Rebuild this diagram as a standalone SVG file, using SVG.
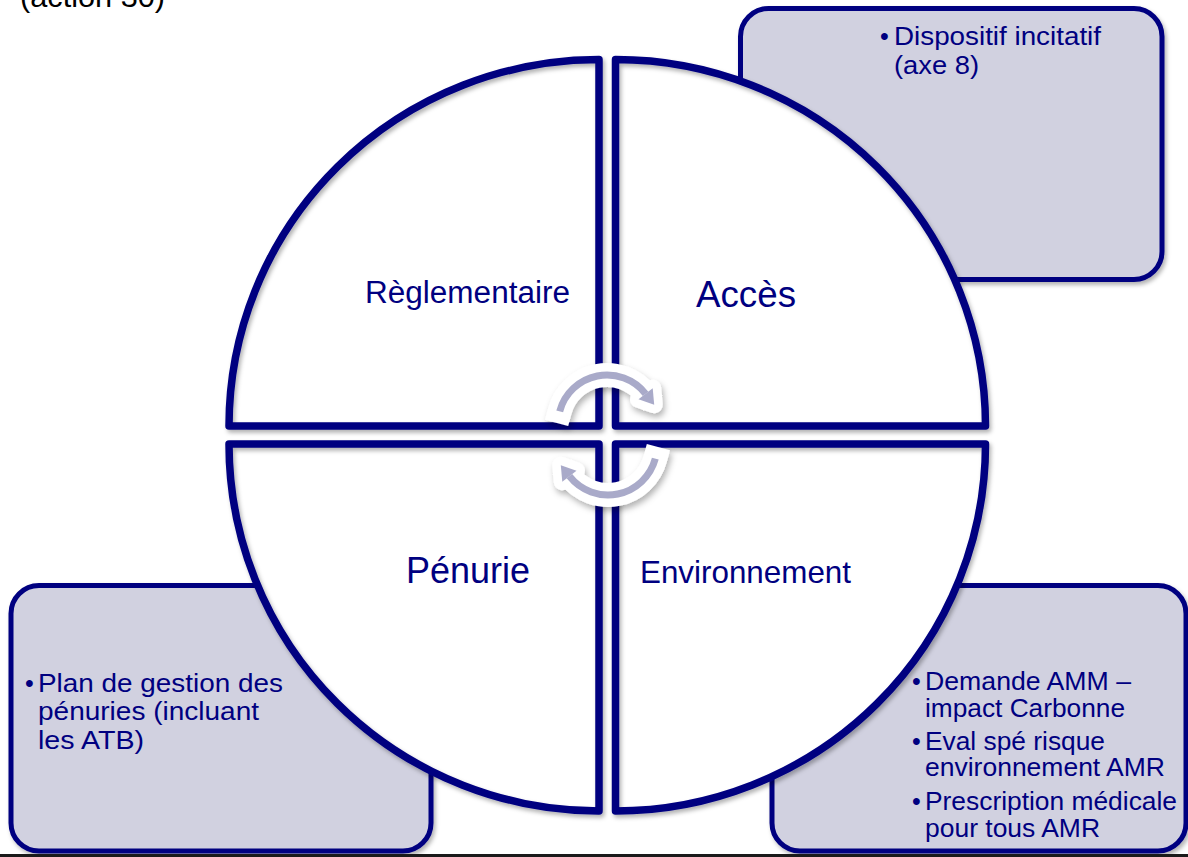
<svg xmlns="http://www.w3.org/2000/svg" width="1188" height="857" viewBox="0 0 1188 857">
<defs>
<style>
.box{fill:#D1D1E0;stroke:#000080;stroke-width:5}
.q{fill:#fff;stroke:none}
.qs{fill:none;stroke:#000080;stroke-width:7.5;stroke-linejoin:round}
.t{font-family:"Liberation Sans",Arial,sans-serif;fill:#000080}
.bt{font-family:"Liberation Sans",Arial,sans-serif;fill:#000080;font-size:25px}
.wa{fill:none;stroke:#fff;stroke-width:24;stroke-linecap:square}
.wh{fill:#fff;stroke:#fff;stroke-width:17;stroke-linejoin:round}
.la{fill:none;stroke:#A9AAC9;stroke-width:7}
.lh{fill:#A9AAC9}
</style>
<filter id="sh" x="-10%" y="-10%" width="120%" height="120%">
<feDropShadow dx="2" dy="3" stdDeviation="2" flood-color="#000" flood-opacity="0.3"/>
</filter>
<filter id="sh2" x="-30%" y="-30%" width="160%" height="160%">
<feDropShadow dx="2" dy="4" stdDeviation="3" flood-color="#000" flood-opacity="0.3"/>
</filter>
</defs>
<rect width="1188" height="857" fill="#fff"/>
<text class="t" x="20" y="7" font-size="30" style="fill:#000" textLength="145" lengthAdjust="spacingAndGlyphs">(action 30)</text>

<g id="box-acces" filter="url(#sh)">
<rect class="box" x="740.5" y="8.5" width="421.5" height="271" rx="28"/>
</g>
<g id="box-acces-text">
<text class="bt" x="880" y="45">•</text>
<text class="bt" x="894" y="45" textLength="207" lengthAdjust="spacingAndGlyphs">Dispositif incitatif</text>
<text class="bt" x="894" y="74" textLength="85" lengthAdjust="spacingAndGlyphs">(axe 8)</text>
</g>

<g id="box-penurie" filter="url(#sh)">
<rect class="box" x="11" y="585.5" width="420" height="265.5" rx="28"/>
</g>
<g id="box-penurie-text">
<text class="bt" x="25" y="692">•</text>
<text class="bt" x="38" y="692" textLength="245" lengthAdjust="spacingAndGlyphs">Plan de gestion des</text>
<text class="bt" x="38" y="720" textLength="221" lengthAdjust="spacingAndGlyphs">pénuries (incluant</text>
<text class="bt" x="38" y="748.5" textLength="106" lengthAdjust="spacingAndGlyphs">les ATB)</text>
</g>

<g id="box-environnement" filter="url(#sh)">
<rect class="box" x="772" y="585.5" width="414" height="265.5" rx="28"/>
</g>
<g id="box-environnement-text">
<text class="bt" x="912" y="690">•</text>
<text class="bt" x="925" y="690" textLength="206" lengthAdjust="spacingAndGlyphs">Demande AMM –</text>
<text class="bt" x="925" y="717" textLength="200" lengthAdjust="spacingAndGlyphs">impact Carbonne</text>
<text class="bt" x="912" y="750">•</text>
<text class="bt" x="925" y="750" textLength="180" lengthAdjust="spacingAndGlyphs">Eval spé risque</text>
<text class="bt" x="925" y="776" textLength="240" lengthAdjust="spacingAndGlyphs">environnement AMR</text>
<text class="bt" x="912" y="809.5">•</text>
<text class="bt" x="925" y="809.5" textLength="252" lengthAdjust="spacingAndGlyphs">Prescription médicale</text>
<text class="bt" x="925" y="837" textLength="175" lengthAdjust="spacingAndGlyphs">pour tous AMR</text>
</g>

<g id="quadrant-fills">
<path class="q" d="M599,426 H229 A370,366.5 0 0 1 599,59.5 Z"/>
<path class="q" d="M615.5,426 V59.5 A370,366.5 0 0 1 985.5,426 Z"/>
<path class="q" d="M615.5,444 H985.5 A370,367 0 0 1 615.5,811 Z"/>
<path class="q" d="M599,444 V811 A370,367 0 0 1 229,444 Z"/>
</g>

<g id="reglementaire">
<path class="qs" filter="url(#sh)" d="M599,426 H229 A370,366.5 0 0 1 599,59.5 Z"/>
<text class="t" x="365" y="303" font-size="31" textLength="205" lengthAdjust="spacingAndGlyphs">Règlementaire</text>
</g>
<g id="acces">
<path class="qs" filter="url(#sh)" d="M615.5,426 V59.5 A370,366.5 0 0 1 985.5,426 Z"/>
<text class="t" x="696" y="307" font-size="37" textLength="100" lengthAdjust="spacingAndGlyphs">Accès</text>
</g>
<g id="environnement">
<path class="qs" filter="url(#sh)" d="M615.5,444 H985.5 A370,367 0 0 1 615.5,811 Z"/>
<text class="t" x="640" y="583" font-size="31.5" textLength="211" lengthAdjust="spacingAndGlyphs">Environnement</text>
</g>
<g id="penurie">
<path class="qs" filter="url(#sh)" d="M599,444 V811 A370,367 0 0 1 229,444 Z"/>
<text class="t" x="406" y="583" font-size="36" textLength="124" lengthAdjust="spacingAndGlyphs">Pénurie</text>
</g>

<g id="connectors">
<g filter="url(#sh2)">
<path class="wa" d="M559.7,411.3 A49,49 0 0 1 645.6,393.8"/>
<polygon class="wh" points="652.7,388.3 654.2,404.8 638.5,399.3"/>
<path class="wa" d="M655.3,458.7 A49,49 0 0 1 569.4,476.2"/>
<polygon class="wh" points="562.3,481.7 560.8,465.2 576.5,470.7"/>
</g>
<path class="la" d="M559.7,411.3 A49,49 0 0 1 645.6,393.8"/>
<polygon class="lh" points="652.7,388.3 654.2,404.8 638.5,399.3"/>
<path class="la" d="M655.3,458.7 A49,49 0 0 1 569.4,476.2"/>
<polygon class="lh" points="562.3,481.7 560.8,465.2 576.5,470.7"/>
</g>

<rect x="0" y="854" width="1188" height="3" fill="#1a1a1a"/>
</svg>
